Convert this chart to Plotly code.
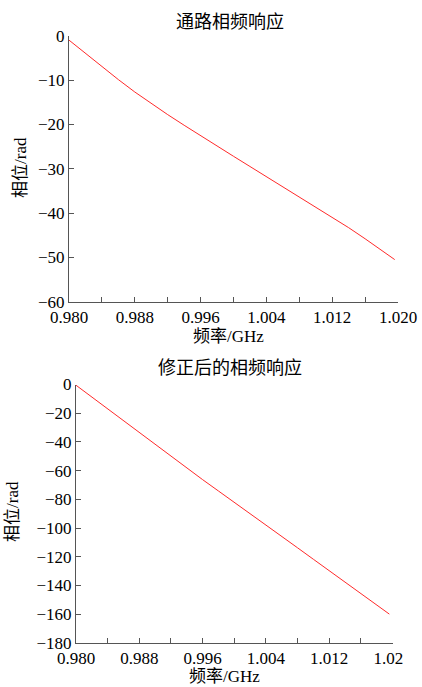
import plotly.graph_objects as go

# ---- data ----
freq_ghz = [0.980, 0.982, 0.984, 0.986, 0.988, 0.990, 0.992, 0.994, 0.996, 0.998,
            1.000, 1.002, 1.004, 1.006, 1.008, 1.010, 1.012, 1.014, 1.016, 1.018, 1.0196]
phase_raw = [-1.0, -4.0, -7.0, -9.9, -12.7, -15.3, -17.8, -20.2, -22.6, -24.9,
             -27.2, -29.5, -31.8, -34.0, -36.3, -38.6, -40.9, -43.3, -45.8, -48.3, -50.5]
phase_corrected = [-0.5, -8.8, -17.0, -25.2, -33.5, -41.8, -50.0, -58.2, -66.3, -74.2,
                   -82.0, -89.8, -97.8, -105.8, -113.8, -121.8, -129.8, -137.6, -145.5, -153.5, -160.0]

x_tick_vals = [0.980, 0.984, 0.988, 0.992, 0.996, 1.000, 1.004, 1.008, 1.012, 1.016, 1.020]
x_tick_text = ["0.980", "", "0.988", "", "0.996", "", "1.004", "", "1.012", "", "1.020"]
y1_ticks = [0, -10, -20, -30, -40, -50, -60]
y2_ticks = [0, -20, -40, -60, -80, -100, -120, -140, -160, -180]

titles = ["通路相频响应", "修正后的相频响应"]
x_title = "频率/GHz"
y_title = "相位/rad"

W, H = 422, 687
FONT = "Liberation Serif, 'Noto Sans CJK SC', serif"
LINE_RED = "#ff2a2a"
AX = "#555555"

def px_x(p):
    return p / W

def px_y(p):
    return 1 - p / H

fig = go.Figure()
fig.add_trace(go.Scatter(x=freq_ghz, y=phase_raw, mode="lines",
                         line=dict(color=LINE_RED, width=1), xaxis="x", yaxis="y",
                         showlegend=False))
fig.add_trace(go.Scatter(x=freq_ghz, y=phase_corrected, mode="lines",
                         line=dict(color=LINE_RED, width=1), xaxis="x2", yaxis="y2",
                         showlegend=False))

axis_common = dict(showgrid=False, zeroline=False, showline=True, linecolor=AX,
                   linewidth=1, ticks="inside", ticklen=5, tickcolor=AX, tickwidth=1,
                   automargin=False,
                   tickfont=dict(family="Liberation Serif", size=17, color="black"))

fig.update_layout(
    template="none",
    width=W, height=H,
    margin=dict(l=0, r=0, t=0, b=0, pad=0),
    paper_bgcolor="white", plot_bgcolor="white",
    xaxis=dict(domain=[px_x(69), px_x(398)], range=[0.980, 1.020], anchor="y",
               tickmode="array", tickvals=x_tick_vals, ticktext=x_tick_text, **axis_common),
    yaxis=dict(domain=[px_y(301.7), px_y(35.7)], range=[-60, 0], anchor="x",
               tickmode="array", tickvals=y1_ticks, **axis_common),
    xaxis2=dict(domain=[px_x(76), px_x(392.5)], range=[0.980, 1.020], anchor="y2",
                tickmode="array", tickvals=x_tick_vals, ticktext=x_tick_text, **axis_common),
    yaxis2=dict(domain=[px_y(642.8), px_y(384.5)], range=[-180, 0], anchor="x2",
                tickmode="array", tickvals=y2_ticks, **axis_common),
)

ann_font = dict(family=FONT, size=17, color="black")
title_font = dict(family=FONT, size=18, color="black")
annotations = [
    dict(text=titles[0], x=px_x(230), y=px_y(22), font=title_font),
    dict(text=titles[1], x=px_x(230), y=px_y(368), font=title_font),
    dict(text=x_title, x=px_x(228), y=px_y(336), font=ann_font),
    dict(text=x_title, x=px_x(224), y=px_y(676), font=ann_font),
    dict(text=y_title, x=px_x(20), y=px_y(168), font=ann_font, textangle=-90),
    dict(text=y_title, x=px_x(12), y=px_y(512), font=ann_font, textangle=-90),
]
for a in annotations:
    a.update(xref="paper", yref="paper", xanchor="center", yanchor="middle", showarrow=False)
fig.update_layout(annotations=annotations)

# the reference image is cropped just past the last bottom tick label
fig.add_shape(type="rect", xref="paper", yref="paper",
              x0=px_x(403), x1=1.0, y0=px_y(668), y1=px_y(646),
              fillcolor="white", line=dict(width=0), layer="above")

# remove the browser's default 8px body margin so the figure fills the window
fig.write_html("out.html",
               config={"displayModeBar": False},
               post_script="document.body.style.margin='0';document.body.style.overflow='hidden';")
